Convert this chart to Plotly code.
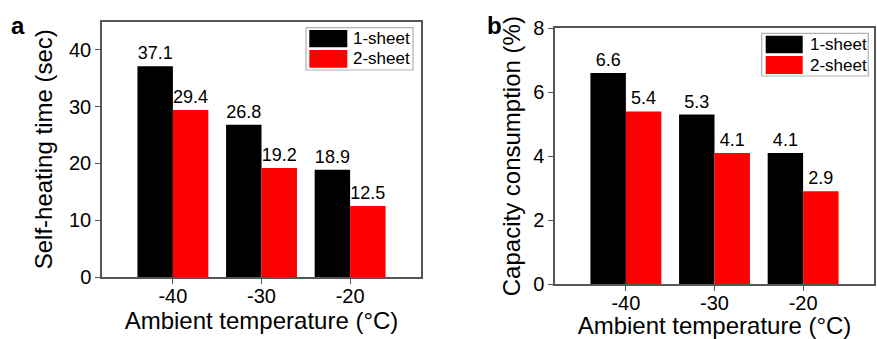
import plotly.graph_objects as go

# Data
temperatures = ["-40", "-30", "-20"]
heating_1sheet = [37.1, 26.8, 18.9]
heating_2sheet = [29.4, 19.2, 12.5]
capacity_1sheet = [6.6, 5.3, 4.1]
capacity_2sheet = [5.4, 4.1, 2.9]
series_names = ["1-sheet", "2-sheet"]
series_colors = ["#000000", "#ff0000"]

W, H = 877, 339
FONT = "Liberation Sans, Arial, Helvetica, sans-serif"
AXIS_COLOR = "#555555"


def px(x):
    return x / W


def py(y):
    return 1 - y / H


fig = go.Figure()

panels = [
    ("x", "y", [heating_1sheet, heating_2sheet]),
    ("x2", "y2", [capacity_1sheet, capacity_2sheet]),
]
for xa, ya, series in panels:
    for name, color, vals in zip(series_names, series_colors, series):
        fig.add_trace(go.Bar(
            x=temperatures, y=vals, name=name, xaxis=xa, yaxis=ya,
            marker=dict(color=color, line=dict(width=0)),
            text=[f"{v:.1f}" for v in vals], textposition="outside",
            textfont=dict(size=18, color="black", family=FONT),
            constraintext="none", cliponaxis=False, showlegend=False,
        ))

axis_common = dict(
    showline=True, linecolor=AXIS_COLOR, linewidth=1.5, mirror=True,
    ticks="outside", ticklen=5, tickwidth=1.2, tickcolor=AXIS_COLOR,
    showgrid=False, zeroline=False, automargin=False,
    tickfont=dict(size=20, color="black", family=FONT),
)

fig.update_layout(
    width=W, height=H,
    margin=dict(l=0, r=0, t=0, b=0),
    paper_bgcolor="white", plot_bgcolor="white",
    barmode="group", bargap=0.2, bargroupgap=0,
    font=dict(family=FONT, color="black"),
    xaxis=dict(domain=[px(102), px(421)], anchor="y", range=[-0.8, 2.8],
               type="category", ticklabelstandoff=-5,
               title=dict(text="Ambient temperature (°C)", font=dict(size=24), standoff=0),
               **axis_common),
    yaxis=dict(domain=[py(277), py(21.5)], anchor="x", range=[0, 45],
               tickvals=[0, 10, 20, 30, 40],
               title=dict(text="Self-heating time (sec)", font=dict(size=24), standoff=10),
               **axis_common),
    xaxis2=dict(domain=[px(555), px(874)], anchor="y2", range=[-0.8, 2.8],
                type="category", ticklabelstandoff=-5,
                title=dict(text="Ambient temperature (°C)", font=dict(size=24), standoff=6),
                **axis_common),
    yaxis2=dict(domain=[py(284), py(28.3)], anchor="x2", range=[0, 8],
                tickvals=[0, 2, 4, 6, 8],
                title=dict(text="Capacity consumption (%)", font=dict(size=24), standoff=6),
                **axis_common),
)

# Panel letters
fig.add_annotation(text="<b>a</b>", x=px(18), y=py(25), xref="paper", yref="paper",
                   showarrow=False, font=dict(size=24, family=FONT), xanchor="center", yanchor="middle")
fig.add_annotation(text="<b>b</b>", x=px(494.5), y=py(25), xref="paper", yref="paper",
                   showarrow=False, font=dict(size=24, family=FONT), xanchor="center", yanchor="middle")

# Legend boxes with large colour swatches
legend_boxes = [
    dict(box=(306, 27.7, 413, 70), sw_x=(309.3, 347.3), rows=[(30, 47.3), (50, 67.7)], text_x=351),
    dict(box=(761.7, 33.3, 868.3, 76), sw_x=(765.7, 802.7), rows=[(35.7, 53.3), (56, 74)], text_x=807.7),
]
for lg in legend_boxes:
    x0, y0, x1, y1 = lg["box"]
    fig.add_shape(type="rect", xref="paper", yref="paper",
                  x0=px(x0), x1=px(x1), y0=py(y1), y1=py(y0),
                  line=dict(color="#b0b0b0", width=1.2), fillcolor="white")
    for (r0, r1), name, color in zip(lg["rows"], series_names, series_colors):
        fig.add_shape(type="rect", xref="paper", yref="paper",
                      x0=px(lg["sw_x"][0]), x1=px(lg["sw_x"][1]), y0=py(r1), y1=py(r0),
                      line=dict(width=0), fillcolor=color)
        fig.add_annotation(text=name, x=px(lg["text_x"]), y=py((r0 + r1) / 2),
                           xref="paper", yref="paper", showarrow=False,
                           xanchor="left", yanchor="middle",
                           font=dict(size=17, family=FONT, color="black"))

fig.write_html("out.html")
